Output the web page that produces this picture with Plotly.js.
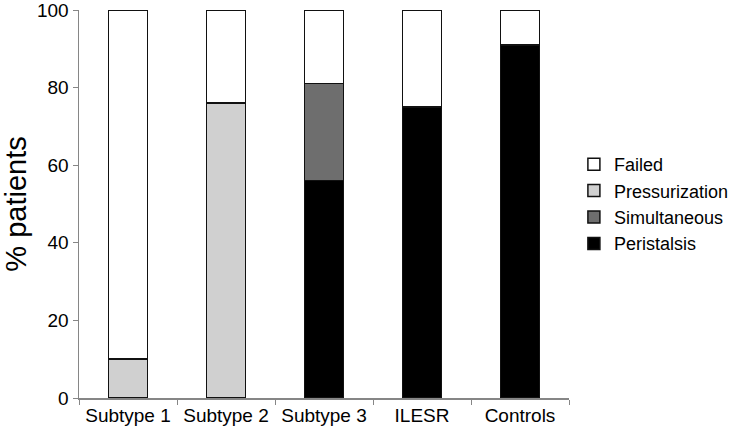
<!DOCTYPE html>
<html>
<head>
<meta charset="utf-8">
<script src="https://cdn.plot.ly/plotly-3.0.1.min.js"></script>
<style>
  html, body { margin: 0; padding: 0; background: #fff; }
  #chart { width: 736px; height: 432px; }
</style>
</head>
<body>
<div id="chart"></div>
<script>
// groups on the x axis
var groups = ["Subtype 1", "Subtype 2", "Subtype 3", "ILESR", "Controls"];

// % patients per outcome (null = no segment)
var peristalsis    = [null, null, 56, 75, 91];
var simultaneous   = [null, null, 25, null, null];
var pressurization = [10, 76, null, null, null];
var failed         = [90, 24, 19, 25, 9];

var yTicks = [0, 20, 40, 60, 80, 100];

function barTrace(name, vals, fill) {
  return {
    type: "bar",
    name: name,
    x: groups,
    y: vals,
    marker: { color: fill, line: { color: "#111111", width: 1.5 } },
    hoverinfo: "none"
  };
}

var data = [
  barTrace("Peristalsis", peristalsis, "#000000"),
  barTrace("Simultaneous", simultaneous, "#6e6e6e"),
  barTrace("Pressurization", pressurization, "#d0d0d0"),
  barTrace("Failed", failed, "#ffffff")
];

var layout = {
  width: 736,
  height: 432,
  barmode: "stack",
  bargap: 0.6,
  paper_bgcolor: "#ffffff",
  plot_bgcolor: "#ffffff",
  margin: { l: 79, r: 167, t: 10, b: 34, autoexpand: false },
  font: { family: "Liberation Sans, Arial, sans-serif", color: "#000000" },
  xaxis: {
    showline: true,
    linecolor: "#868686",
    linewidth: 1.5,
    ticks: "outside",
    tickson: "boundaries",
    ticklen: 5,
    tickcolor: "#868686",
    tickfont: { size: 19 },
    showgrid: false
  },
  yaxis: {
    range: [0, 100],
    tickvals: yTicks,
    ticktext: yTicks.map(String),
    showline: true,
    linecolor: "#868686",
    linewidth: 1.5,
    ticks: "outside",
    ticklen: 5,
    tickcolor: "#868686",
    tickfont: { size: 19 },
    ticklabeloverflow: "allow",
    showgrid: false,
    zeroline: false,
    title: { text: "% patients", font: { size: 29 }, standoff: 8 }
  },
  legend: {
    x: 1.01,
    xanchor: "left",
    y: 0.5,
    yanchor: "middle",
    traceorder: "reversed",
    font: { size: 18 },
    itemwidth: 30
  },
  showlegend: true
};

Plotly.newPlot("chart", data, layout, { displayModeBar: false, staticPlot: true });
</script>
</body>
</html>
